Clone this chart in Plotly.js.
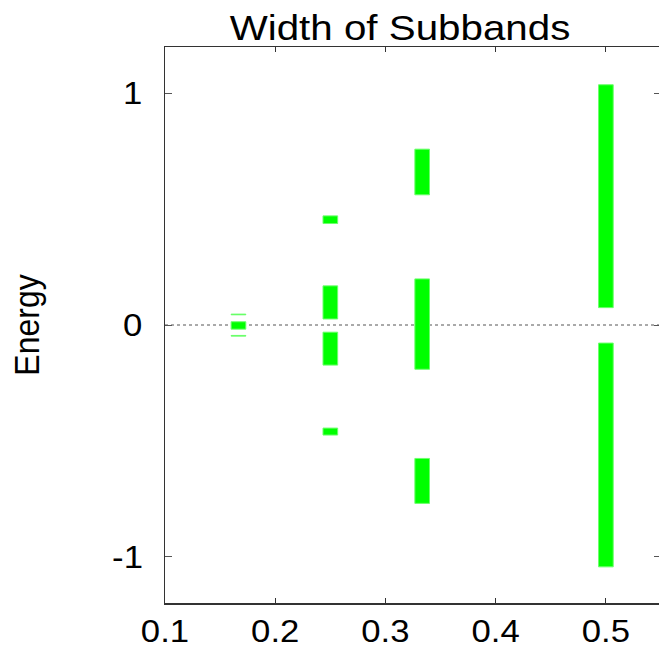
<!DOCTYPE html>
<html>
<head>
<meta charset="utf-8">
<script src="https://cdn.plot.ly/plotly-3.0.1.min.js"></script>
<style>
html, body { margin: 0; padding: 0; overflow: hidden; background: #ffffff; }
#chart { width: 661px; height: 648px; }
</style>
</head>
<body>
<div id="chart"></div>
<script>
// Flux values (alpha = p/q) and band edges
const bandFlux = [1/6, 1/6, 1/6, 1/4, 1/4, 1/4, 1/4, 1/3, 1/3, 1/3, 1/2, 1/2];
const bandLow  = [0.044, -0.018, -0.048, 0.438, 0.026, -0.173, -0.475, 0.562, -0.191, -0.770, 0.075, -1.044];
const bandHigh = [0.047, 0.014, -0.045, 0.471, 0.169, -0.031, -0.445, 0.759, 0.199, -0.576, 1.037, -0.078];
const xTicks = [0.1, 0.2, 0.3, 0.4, 0.5];
const xTickText = ['0.1', '0.2', '0.3', '0.4', '0.5'];
const yTicks = [-1, 0, 1];
const yTickText = ['-1', '0', '1'];

const heights = bandHigh.map((h, i) => h - bandLow[i]);

const trace = {
  type: 'bar',
  x: bandFlux,
  y: heights,
  base: bandLow,
  width: 0.0133,
  marker: { color: '#00ff00', line: { color: '#6cff6c', width: 1 } },
  hoverinfo: 'skip',
  showlegend: false
};

const font = 'Liberation Sans, Arial, Helvetica, sans-serif';

const layout = {
  width: 661,
  height: 648,
  margin: { l: 165, r: 0, t: 47, b: 45 },
  paper_bgcolor: '#ffffff',
  plot_bgcolor: '#ffffff',
  font: { family: font, size: 31, color: '#000000' },
  title: {
    text: 'Width of Subbands',
    font: { family: font, size: 36, color: '#000000' },
    xref: 'container', x: 400 / 661, xanchor: 'center',
    yref: 'container', y: 1 - 27 / 648, yanchor: 'middle'
  },
  xaxis: {
    range: [0.1, 0.55],
    tickvals: xTicks,
    ticktext: xTickText,
    ticks: 'inside',
    ticklen: 5,
    tickwidth: 1,
    tickcolor: '#333333',
    showline: true,
    linecolor: '#333333',
    linewidth: 1.5,
    mirror: 'ticks',
    showgrid: false,
    zeroline: false,
    ticklabelstandoff: 0,
    tickfont: { family: font, size: 31, color: '#000000' }
  },
  yaxis: {
    range: [-1.2, 1.2],
    tickvals: yTicks,
    ticktext: yTickText,
    ticks: 'inside',
    ticklen: 7,
    tickwidth: 1,
    tickcolor: '#555555',
    showline: true,
    linecolor: '#333333',
    linewidth: 1.5,
    mirror: 'ticks',
    showgrid: false,
    zeroline: false,
    ticklabelstandoff: 16,
    tickfont: { family: font, size: 31, color: '#000000' },
    title: { text: 'Energy', font: { family: font, size: 32, color: '#000000' }, standoff: 66 }
  },
  shapes: [{
    type: 'line', xref: 'paper', x0: 0, x1: 1, yref: 'y', y0: 0, y1: 0,
    line: { color: '#555555', width: 1, dash: 'dot' }, layer: 'below'
  }]
};

// The reference's lettering is slightly wider than Liberation Sans: stretch each text horizontally about its centre.
function stretchText(gd, s) {
  gd.querySelectorAll('svg text').forEach(t => {
    if (!t.textContent.trim()) return;
    const r = t.getBoundingClientRect();
    const parent = t.parentNode;
    const ctm = parent.getScreenCTM();
    const cx = (r.left + r.width / 2 - ctm.e) / ctm.a;
    const g = document.createElementNS('http://www.w3.org/2000/svg', 'g');
    g.setAttribute('transform', 'translate(' + cx + ',0) scale(' + s + ',1) translate(' + (-cx) + ',0)');
    parent.insertBefore(g, t);
    g.appendChild(t);
  });
}

Plotly.newPlot('chart', [trace], layout, { displayModeBar: false, staticPlot: true })
  .then(gd => stretchText(gd, 1.12));
</script>
</body>
</html>
